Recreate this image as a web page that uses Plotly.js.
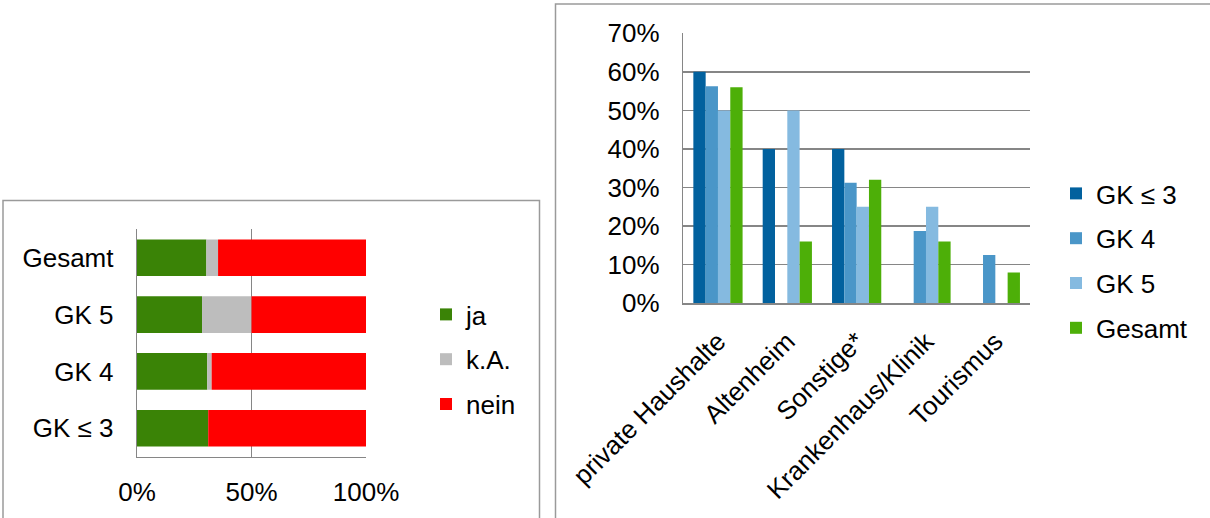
<!DOCTYPE html>
<html>
<head>
<meta charset="utf-8">
<script src="https://cdn.plot.ly/plotly-3.0.1.min.js"></script>
<style>
  html, body { margin: 0; padding: 0; background: #ffffff; }
  #chart { width: 1210px; height: 518px; }
</style>
</head>
<body>
<div id="chart"></div>
<script>
// Left panel: share of answers per size class (stacked to 100 %)
const groupLabels = ['GK ≤ 3', 'GK 4', 'GK 5', 'Gesamt'];
const jaShare   = [0.311, 0.307, 0.284, 0.303];
const kaShare   = [0.000, 0.019, 0.216, 0.051];
const neinShare = [0.689, 0.674, 0.500, 0.646];

// Right panel: distribution across facility types per size class
const facilities = ['private Haushalte', 'Altenheim', 'Sonstige*', 'Krankenhaus/Klinik', 'Tourismus'];
const gk3Values    = [0.60, 0.40, 0.40, 0.00, 0.00];
const gk4Values    = [0.5625, 0.00, 0.3125, 0.1875, 0.125];
const gk5Values    = [0.50, 0.50, 0.25, 0.25, 0.00];
const gesamtValues = [0.56, 0.16, 0.32, 0.16, 0.08];

const W = 1210, H = 518;
const px = v => v / W;          // horizontal pixel -> paper fraction
const py = v => 1 - v / H;      // vertical pixel (from top) -> paper fraction

const FONT = 'Liberation Sans, Arial, Helvetica, sans-serif';
const GRID = '#868686';
const FS = 26;

// stacked offsets for the left panel
const kaBase   = jaShare.map(v => v);
const neinBase = jaShare.map((v, i) => v + kaShare[i]);

const leftBar = {
  type: 'bar', orientation: 'h', xaxis: 'x', yaxis: 'y',
  y: groupLabels, width: 0.645, offset: -0.3225, offsetgroup: 'stack',
  legend: 'legend', hoverinfo: 'skip'
};

const traces = [
  Object.assign({}, leftBar, { name: 'ja',   x: jaShare,   base: 0,        legendgroup: 'ja',
    marker: { color: '#3A8306' } }),
  Object.assign({}, leftBar, { name: 'k.A.', x: kaShare,   base: kaBase,   legendgroup: 'ka',
    marker: { color: '#BDBDBD' } }),
  Object.assign({}, leftBar, { name: 'nein', x: neinShare, base: neinBase, legendgroup: 'nein',
    marker: { color: '#FF0000' } })
];

const rightSeries = [
  ['GK ≤ 3', gk3Values,    '#02619E'],
  ['GK 4',   gk4Values,    '#4A96C8'],
  ['GK 5',   gk5Values,    '#85BAE0'],
  ['Gesamt', gesamtValues, '#4DAF08']
];
rightSeries.forEach(([name, vals, color]) => {
  traces.push({
    type: 'bar', xaxis: 'x2', yaxis: 'y2', name: name, x: facilities, y: vals,
    legend: 'legend2', legendgroup: 'r_' + name, hoverinfo: 'skip',
    marker: { color: color }
  });
});

const tickFont = { family: FONT, size: FS, color: '#000000' };

const layout = {
  width: W, height: H,
  margin: { l: 0, r: 0, t: 0, b: 0 },
  paper_bgcolor: '#ffffff', plot_bgcolor: 'rgba(0,0,0,0)',
  font: { family: FONT, size: FS, color: '#000000' },
  barmode: 'group', bargap: 0.29, bargroupgap: 0,
  showlegend: true,
  xaxis: {
    domain: [px(137), px(366)], range: [0, 1], anchor: 'y',
    tickvals: [0, 0.5, 1], tickformat: '.0%', tickfont: tickFont,
    showgrid: true, gridcolor: GRID, gridwidth: 1.3,
    showline: true, linecolor: GRID, linewidth: 1.3,
    zeroline: false, ticks: '', ticklabelstandoff: 12, fixedrange: true
  },
  yaxis: {
    domain: [py(456.7), py(229.3)], anchor: 'x',
    type: 'category', categoryorder: 'array', categoryarray: groupLabels,
    range: [-0.5, 3.5], tickfont: tickFont,
    showgrid: false, showline: true, linecolor: GRID, linewidth: 1.3,
    ticks: '', ticklabelstandoff: 17, fixedrange: true
  },
  xaxis2: {
    domain: [px(683.3), px(1030)], anchor: 'y2',
    type: 'category', tickfont: tickFont, tickangle: -45,
    showgrid: false, showline: true, linecolor: GRID, linewidth: 1.5,
    ticks: '', ticklabelstandoff: 11, fixedrange: true
  },
  yaxis2: {
    domain: [py(303.3), py(33.3)], anchor: 'x2',
    range: [0, 0.7], dtick: 0.1, tickformat: '.0%', tickfont: tickFont,
    showgrid: true, gridcolor: GRID, gridwidth: 1.5,
    showline: true, linecolor: GRID, linewidth: 1.5,
    zeroline: false, ticks: '', ticklabelstandoff: 17, fixedrange: true
  },
  legend: {
    x: px(426), y: py(291), xanchor: 'left', yanchor: 'top',
    traceorder: 'grouped', tracegroupgap: 8, itemwidth: 30,
    font: { family: FONT, size: FS, color: '#000000' },
    bgcolor: 'rgba(0,0,0,0)', borderwidth: 0
  },
  legend2: {
    x: px(1056), y: py(170), xanchor: 'left', yanchor: 'top',
    traceorder: 'grouped', tracegroupgap: 8, itemwidth: 30,
    font: { family: FONT, size: FS, color: '#000000' },
    bgcolor: 'rgba(0,0,0,0)', borderwidth: 0
  },
  shapes: [
    // chart frames
    { type: 'rect', xref: 'paper', yref: 'paper', x0: px(3), x1: px(539.5), y0: py(530), y1: py(200.5),
      line: { color: '#9a9a9a', width: 1.5 }, fillcolor: 'rgba(0,0,0,0)', layer: 'below' },
    { type: 'rect', xref: 'paper', yref: 'paper', x0: px(555.5), x1: px(1230), y0: py(530), y1: py(4),
      line: { color: '#9a9a9a', width: 1.5 }, fillcolor: 'rgba(0,0,0,0)', layer: 'below' }
  ]
};

Plotly.newPlot('chart', traces, layout, { staticPlot: true, displayModeBar: false });
</script>
</body>
</html>
